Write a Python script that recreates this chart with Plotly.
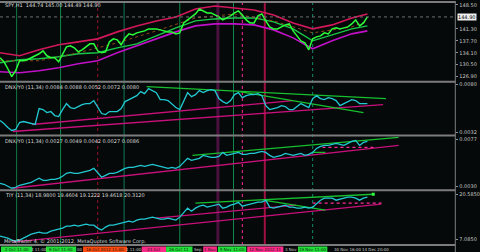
import plotly.graph_objects as go

# ---------------- data ----------------
bars = list(range(95))  # hourly bars

spy = [132.6,131.4,129.3,126.9,128.7,131.7,131.7,132.0,132.6,133.2,
       133.8,134.7,133.2,132.6,132.6,131.4,133.5,135.9,136.2,135.6,
       134.4,135.0,135.9,136.8,136.8,134.7,134.1,134.4,137.4,138.3,
       138.0,136.5,138.6,139.8,139.5,140.1,140.4,140.7,141.3,141.3,
       141.3,141.0,140.7,140.4,140.4,139.8,140.1,143.1,144.0,144.9,
       145.8,147.3,146.7,146.1,146.1,145.5,144.9,144.0,144.6,145.2,
       146.1,146.7,145.5,144.0,143.1,143.1,145.2,145.8,143.7,141.9,
       141.3,141.3,141.9,142.5,142.8,140.7,139.2,137.7,137.1,135.0,
       138.3,138.9,139.2,140.1,139.8,141.3,141.6,141.3,141.6,141.9,
       142.8,144.0,142.2,143.1,144.9]

band_bars = [0,5,10,15,20,25,30,35,40,45,50,55,60,65,70,75,80,85,90,94]
band_upper = [134.1,133.2,135.0,136.5,137.4,138.3,140.4,142.2,143.7,144.9,
              147.3,148.2,147.6,147.0,145.5,143.1,141.3,142.5,144.6,145.8]
band_mid = [131.1,132.0,132.3,132.9,133.8,134.1,135.6,136.8,139.2,141.6,
            143.7,144.3,144.6,144.6,143.4,141.3,137.7,139.5,141.3,142.2]
band_lower = [128.4,128.1,128.7,129.6,130.8,131.7,134.1,136.2,138.3,140.4,
              142.2,142.8,142.8,142.5,141.0,138.6,135.3,137.7,139.8,140.7]
ma_bars = [0,10,20,30,40,50,60,70,80,90,94]
ma_vals = [131.7,131.7,134.1,137.1,140.7,144.6,145.8,143.7,140.1,141.9,143.7]

dnx1 = [0.0044,0.0041,0.0037,0.0034,0.0035,0.0042,0.0043,0.0042,0.0041,0.0040,
        0.0056,0.0055,0.0052,0.0053,0.0049,0.0048,0.0055,0.0061,0.0057,0.0056,
        0.0058,0.0060,0.0061,0.0061,0.0064,0.0057,0.0051,0.0050,0.0053,0.0053,
        0.0053,0.0056,0.0063,0.0065,0.0067,0.0069,0.0073,0.0071,0.0076,0.0074,
        0.0072,0.0065,0.0065,0.0064,0.0060,0.0057,0.0055,0.0064,0.0072,0.0068,
        0.0070,0.0074,0.0072,0.0074,0.0075,0.0074,0.0066,0.0063,0.0061,0.0064,
        0.0070,0.0072,0.0067,0.0069,0.0070,0.0070,0.0071,0.0069,0.0059,0.0055,
        0.0056,0.0057,0.0059,0.0058,0.0055,0.0055,0.0058,0.0061,0.0059,0.0057,
        0.0066,0.0069,0.0066,0.0065,0.0067,0.0066,0.0064,0.0059,0.0061,0.0063,
        0.0065,0.0064,0.0061,0.0061,0.0061]

dnx2 = [0.0033,0.0032,0.0030,0.0028,0.0029,0.0031,0.0032,0.0033,0.0034,0.0036,
        0.0038,0.0036,0.0036,0.0037,0.0037,0.0038,0.0040,0.0043,0.0044,0.0043,
        0.0043,0.0044,0.0045,0.0046,0.0048,0.0043,0.0039,0.0041,0.0043,0.0043,
        0.0044,0.0046,0.0048,0.0049,0.0049,0.0050,0.0051,0.0050,0.0051,0.0052,
        0.0051,0.0050,0.0049,0.0048,0.0049,0.0048,0.0050,0.0054,0.0058,0.0056,
        0.0057,0.0058,0.0061,0.0060,0.0059,0.0059,0.0060,0.0064,0.0061,0.0062,
        0.0063,0.0064,0.0062,0.0062,0.0063,0.0063,0.0064,0.0065,0.0064,0.0061,
        0.0059,0.0060,0.0061,0.0063,0.0062,0.0061,0.0062,0.0063,0.0061,0.0062,
        0.0064,0.0068,0.0070,0.0071,0.0071,0.0072,0.0073,0.0072,0.0071,0.0073,
        0.0075,0.0076,0.0071,0.0074,0.0075]

tiy = [8.0,7.7,7.4,6.8,6.5,6.8,7.4,8.0,8.6,8.9,
       9.2,8.9,8.9,9.5,9.8,10.1,10.4,11.0,11.0,11.3,
       11.0,11.3,11.6,11.3,11.3,10.4,9.8,10.7,11.3,11.3,
       11.6,11.9,12.2,12.5,12.2,12.8,13.1,13.1,13.4,13.7,
       13.4,13.1,13.1,13.4,13.1,12.8,13.7,15.2,16.4,15.5,
       16.4,17.0,17.3,16.7,17.0,17.3,17.6,16.4,16.7,17.3,
       17.6,18.2,17.0,17.3,17.6,17.9,18.2,18.2,18.8,16.7,
       16.4,16.7,17.0,17.3,16.7,16.7,16.4,16.4,16.7,16.4,
       16.7,17.9,18.8,19.4,19.4,19.4,18.8,19.1,19.4,19.7,
       19.7,19.4,18.8,19.4,19.7]

# trend lines: (bar0, val0, bar1, val1)
p2_green = [(37.5, 0.0078, 98.75, 0.0066), (61.25, 0.0073, 93.0, 0.0052)]
p2_magenta = [(8.25, 0.0040, 75.0, 0.0064), (3.25, 0.0033, 98.0, 0.0060)]
p3_green = [(49.25, 0.0061, 102.0, 0.0079), (80.0, 0.0064, 83.25, 0.0064)]
p3_magenta = [(3.25, 0.0028, 102.0, 0.0071)]
p3_dotted = [(82.5, 0.0069, 95.5, 0.0069)]
p4_green = [(50.0, 17.9, 95.5, 20.6), (67.5, 18.8, 83.25, 15.8)]
p4_magenta = [(3.25, 6.2, 97.5, 17.6), (40.0, 13.4, 75.75, 17.3)]
p4_dotted = [(80.0, 17.9, 98.0, 17.9)]

last_price = 144.90

vlines_bars = [4.25, 15.5, 25.0, 31.75, 46.0, 55.75, 59.75, 62.0, 67.75, 80.0]
vlines_color = ['#0f7a45', '#0f8a4a', '#a0102a', '#0f7a5a', '#0f8a4a', '#4a1040',
                '#0f8a4a', '#ff2a9a', '#a01040', '#0f8a6a']
vlines_dash = ['solid', 'solid', 'dot', 'solid', 'solid', 'solid', 'solid', 'dot', 'solid', 'dot']
vlines_width = [1, 1, 1, 1, 1, 3, 1, 1, 2, 1]

panel_titles = ["SPY,H1  144.74 145.00 144.49 144.90",
                "DNX/Y0 (11,34) 0.0084 0.0088 0.0052 0.0072 0.0080",
                "DNX/Y0 (11,34) 0.0027 0.0049 0.0042 0.0027 0.0086",
                "TIY (11,34) 18.9800 19.4604 19.1222 19.4618 20.3120"]

p1_ticks = [148.5, 141.3, 137.7, 134.1, 130.5, 126.9]
p2_ticks = [0.0080, 0.0032]
p3_ticks = [0.0077, 0.0030]
p4_ticks = [20.585, 7.085]

session_labels = ["2 Oct 11:00", "9 Oct 11:00", "16 Oct 2012 11:00", "23 Oct",
                  "26 Oct 11", "1 Nov", "5 Nov 11:00", "12 Nov 2012 11", "19 Nov 11:00"]
session_spans = [(0.25, 8.25), (11.75, 19.5), (21.25, 32.5), (36.25, 42.5), (42.5, 49.25),
                 (52.0, 55.5), (55.75, 63.0), (63.25, 72.5), (76.25, 83.75)]
session_colors = ['#22e03a', '#22e03a', '#ff4a10', '#ff2a8a', '#22e03a',
                  '#ff2a8a', '#22e03a', '#ff2a8a', '#22e03a']
axis_labels = ["4 11:00", "00", "1 11:00", "Sep", "3 Nov", "30 Nov 16:00", "14 Dec 20:00"]
axis_label_bars = [10.0, 20.4, 34.4, 50.75, 74.4, 85.0, 92.0]
axis_label_anchor = ['center', 'center', 'center', 'center', 'center', 'left', 'left']

# ---------------- figure ----------------
BG = '#050909'
W, H = 480, 252
XR = 466 / W
def py(p):
    return 1 - p / H

fig = go.Figure()

# panel 1
fig.add_trace(go.Scatter(x=band_bars, y=band_lower, mode='lines',
                         line=dict(color='#c010c8', width=1.6), yaxis='y'))
fig.add_trace(go.Scatter(x=band_bars, y=band_upper, mode='lines',
                         line=dict(color='#d0185a', width=1.6), yaxis='y'))
fig.add_trace(go.Scatter(x=band_bars, y=band_mid, mode='lines',
                         line=dict(color='#18c848', width=1.4), yaxis='y'))
fig.add_trace(go.Scatter(x=ma_bars, y=ma_vals, mode='lines',
                         line=dict(color='#8a4a18', width=1, dash='dot'), yaxis='y'))
fig.add_trace(go.Scatter(x=bars, y=spy, mode='lines',
                         line=dict(color='#2aff3a', width=1.5), yaxis='y'))

def add_lines(lines, color, yax, width=1.3, dash='solid'):
    for b0, v0, b1, v1 in lines:
        fig.add_trace(go.Scatter(x=[b0, b1], y=[v0, v1], mode='lines',
                                 line=dict(color=color, width=width, dash=dash), yaxis=yax))

# panel 2
add_lines(p2_magenta, '#c8107a', 'y2')
add_lines(p2_green, '#18c030', 'y2')
fig.add_trace(go.Scatter(x=bars, y=dnx1, mode='lines',
                         line=dict(color='#22c8d2', width=1.3), yaxis='y2'))
# panel 3
add_lines(p3_magenta, '#c8107a', 'y3')
add_lines(p3_dotted, '#ff2a9a', 'y3', dash='dot')
add_lines(p3_green, '#18c030', 'y3')
fig.add_trace(go.Scatter(x=bars, y=dnx2, mode='lines',
                         line=dict(color='#22c8d2', width=1.3), yaxis='y3'))
# panel 4
add_lines(p4_magenta, '#c8107a', 'y4')
add_lines(p4_dotted, '#ff2a9a', 'y4', dash='dot')
add_lines(p4_green, '#18c030', 'y4')
fig.add_trace(go.Scatter(x=bars, y=tiy, mode='lines',
                         line=dict(color='#22c8d2', width=1.3), yaxis='y4'))
fig.add_trace(go.Scatter(x=[p4_green[0][2]], y=[p4_green[0][3]], mode='markers',
                         marker=dict(color='#30ff40', size=3, symbol='square'), yaxis='y4'))

shapes = []
# vertical lines across all panels
for b, c, d, w in zip(vlines_bars, vlines_color, vlines_dash, vlines_width):
    shapes.append(dict(type='line', xref='x', yref='paper', x0=b, x1=b,
                       y0=py(245), y1=py(1), line=dict(color=c, width=w, dash=d), layer='below'))
# current price line
shapes.append(dict(type='line', xref='paper', yref='y', x0=0, x1=XR, y0=last_price, y1=last_price,
                   line=dict(color='#707070', width=1, dash='dot')))
# panel separators
for yy in [1, 81, 135, 190, 245]:
    shapes.append(dict(type='line', xref='paper', yref='paper', x0=0, x1=XR,
                       y0=py(yy), y1=py(yy), line=dict(color='#7c7c7c', width=2)))
shapes.append(dict(type='line', xref='paper', yref='paper', x0=XR, x1=XR, y0=0, y1=1,
                   line=dict(color='#7c7c7c', width=1)))
# session boxes
for (b0, b1), c in zip(session_spans, session_colors):
    shapes.append(dict(type='rect', xref='x', yref='paper', x0=b0, x1=b1,
                       y0=0, y1=py(246.5), fillcolor=c, line=dict(width=0)))

ann = []
title_y = [4, 86, 141, 195]
for t, yy in zip(panel_titles, title_y):
    ann.append(dict(text=t, xref='paper', yref='paper', x=3 / W, y=py(yy), xanchor='left',
                    yanchor='middle', showarrow=False, font=dict(size=5, color='#d8d8d8')))
ann.append(dict(text="MetaTrader 4, © 2001-2012, MetaQuotes Software Corp.", xref='paper', yref='paper',
                x=2 / W, y=py(241.5), xanchor='left', yanchor='middle', showarrow=False,
                font=dict(size=5, color='#d8d8d8')))
for (b0, b1), t in zip(session_spans, session_labels):
    ann.append(dict(text=t, xref='x', yref='paper', x=(b0 + b1) / 2, y=py(249.3), xanchor='center',
                    yanchor='middle', showarrow=False, font=dict(size=4, color='#102010')))
for b, t, a in zip(axis_label_bars, axis_labels, axis_label_anchor):
    ann.append(dict(text=t, xref='x', yref='paper', x=b, y=py(249.3), xanchor=a,
                    yanchor='middle', showarrow=False, font=dict(size=4, color='#c8c8c8')))
ann.append(dict(text=f"{last_price:.2f}", xref='paper', yref='y', x=XR + 2 / W, y=last_price,
                xanchor='left', yanchor='middle', showarrow=False, bgcolor='#f0f0f0',
                font=dict(size=5, color='#000000'), borderpad=0))

def yax(dom, rng, ticks, fmt):
    return dict(domain=dom, range=rng, side='right', anchor='x', showgrid=False, zeroline=False,
                tickvals=ticks, ticktext=[fmt.format(v) for v in ticks], ticks='outside',
                ticklen=2, tickcolor='#909090', tickfont=dict(size=5, color='#c8c8c8'),
                showline=False, fixedrange=True)

fig.update_layout(
    width=W, height=H, margin=dict(l=0, r=0, t=0, b=0),
    paper_bgcolor=BG, plot_bgcolor=BG, showlegend=False,
    font=dict(family='DejaVu Sans'),
    xaxis=dict(domain=[0, XR], range=[0, 116.5], showgrid=False, zeroline=False,
               showticklabels=False, ticks='', showline=False, anchor='y4'),
    yaxis=yax([py(81), py(1)], [125.4, 149.4], p1_ticks, "{:.2f}"),
    yaxis2=yax([py(135), py(82)], [0.0029, 0.0082], p2_ticks, "{:.4f}"),
    yaxis3=yax([py(190), py(136)], [0.0026, 0.0080], p3_ticks, "{:.4f}"),
    yaxis4=yax([py(245), py(191)], [5.3, 21.5], p4_ticks, "{:.4f}"),
    shapes=shapes, annotations=ann,
)

fig.write_html("out.html")
